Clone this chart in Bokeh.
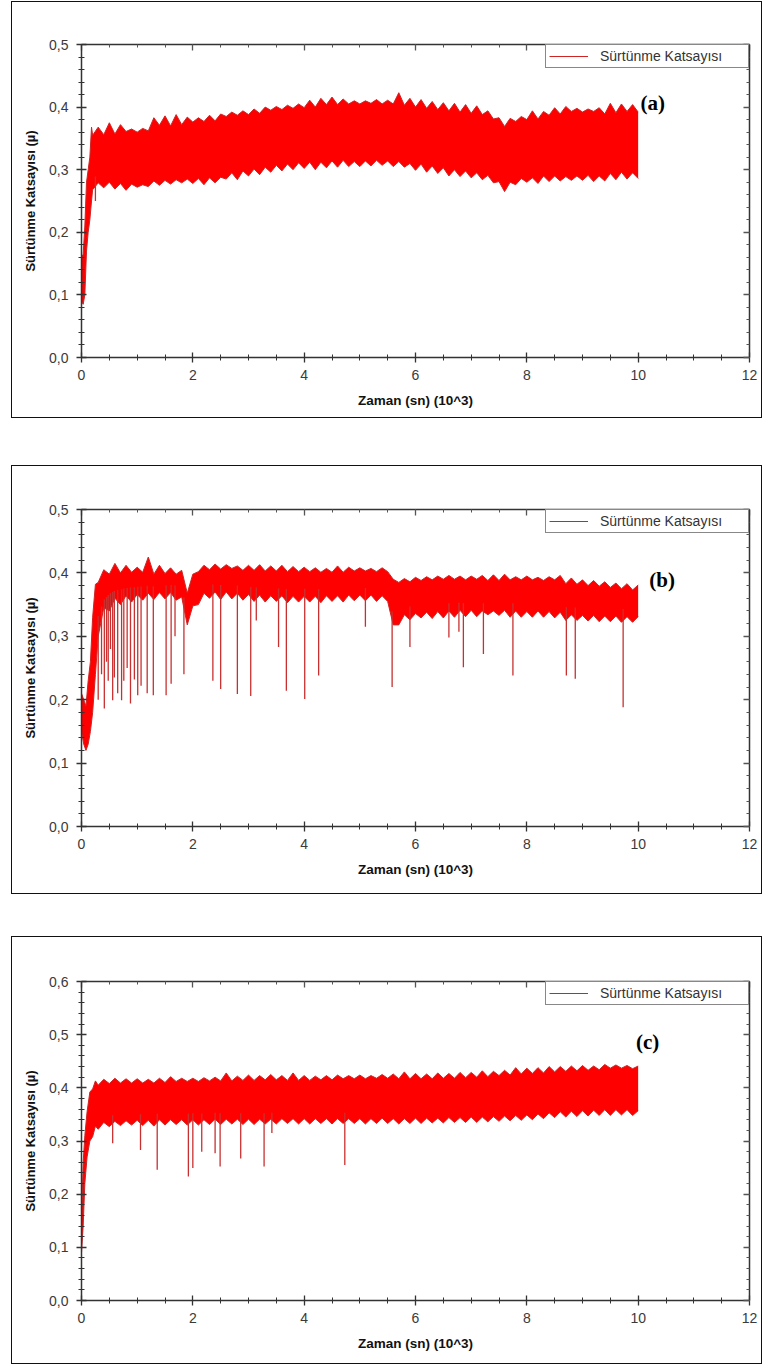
import numpy as np
from bokeh.plotting import figure
from bokeh.models import (Range1d, LinearAxis, FixedTicker, CustomJSTickFormatter,
                          Legend, LegendItem, Label, Spacer)
from bokeh.layouts import column, row
from bokeh.embed import file_html
from bokeh.resources import INLINE

# ---------------- data (time in 10^3 s, friction coefficient mu) ----------------
X_TICKS = [0, 2, 4, 6, 8, 10, 12]
Y_TICKS_AB = [0.0, 0.1, 0.2, 0.3, 0.4, 0.5]
Y_TICKS_C = [0.0, 0.1, 0.2, 0.3, 0.4, 0.5, 0.6]
SERIES_NAME = "Sürtünme Katsayısı"

T_GRID = [0.3, 0.4, 0.5, 0.6, 0.7, 0.8, 0.9,
          1.0, 1.1, 1.2, 1.3, 1.4, 1.5, 1.6, 1.7, 1.8, 1.9,
          2.0, 2.1, 2.2, 2.3, 2.4, 2.5, 2.6, 2.7, 2.8, 2.9,
          3.0, 3.1, 3.2, 3.3, 3.4, 3.5, 3.6, 3.7, 3.8, 3.9,
          4.0, 4.1, 4.2, 4.3, 4.4, 4.5, 4.6, 4.7, 4.8, 4.9,
          5.0, 5.1, 5.2, 5.3, 5.4, 5.5, 5.6, 5.7, 5.8, 5.9,
          6.0, 6.1, 6.2, 6.3, 6.4, 6.5, 6.6, 6.7, 6.8, 6.9,
          7.0, 7.1, 7.2, 7.3, 7.4, 7.5, 7.6, 7.7, 7.8, 7.9,
          8.0, 8.1, 8.2, 8.3, 8.4, 8.5, 8.6, 8.7, 8.8, 8.9,
          9.0, 9.1, 9.2, 9.3, 9.4, 9.5, 9.6, 9.7, 9.8, 9.9,
          10.0]

# ---- Panel (a) ----  (HI/LO: dense core of the band, PK/TR: tips of the noise)
A_T0 = [0.0, 0.03, 0.06, 0.09, 0.12, 0.15, 0.18, 0.2]
A_HI0 = [0.16, 0.165, 0.21, 0.28, 0.30, 0.32, 0.36, 0.355]
A_LO0 = [0.09, 0.085, 0.10, 0.17, 0.20, 0.22, 0.25, 0.275]
A_PK0 = [0.16, 0.165, 0.21, 0.28, 0.30, 0.32, 0.368, 0.362]
A_TR0 = [0.09, 0.085, 0.10, 0.17, 0.20, 0.22, 0.25, 0.268]
A_HI = [0.358, 0.356, 0.360, 0.357, 0.359, 0.361, 0.358,
        0.360, 0.358, 0.362, 0.368, 0.371, 0.373, 0.370, 0.374, 0.372, 0.375,
        0.376, 0.374, 0.377, 0.379, 0.378, 0.381, 0.385, 0.384, 0.387, 0.386,
        0.388, 0.391, 0.390, 0.393, 0.395, 0.394, 0.396, 0.395, 0.398, 0.397,
        0.399, 0.401, 0.400, 0.402, 0.404, 0.402, 0.404, 0.403, 0.405, 0.404,
        0.405, 0.403, 0.406, 0.404, 0.405, 0.403, 0.405, 0.406, 0.403, 0.402,
        0.400, 0.401, 0.398, 0.399, 0.396, 0.397, 0.394, 0.395, 0.392, 0.393,
        0.390, 0.391, 0.388, 0.386, 0.381, 0.374, 0.369, 0.372, 0.377, 0.378,
        0.380, 0.382, 0.381, 0.384, 0.387, 0.390, 0.389, 0.392, 0.393, 0.391,
        0.392, 0.390, 0.393, 0.391, 0.389, 0.392, 0.391, 0.394, 0.393, 0.394,
        0.392]
A_PK = [0.368, 0.364, 0.375, 0.366, 0.372, 0.383, 0.365,
        0.371, 0.366, 0.378, 0.383, 0.379, 0.386, 0.377, 0.388, 0.380, 0.384,
        0.385, 0.383, 0.390, 0.387, 0.393, 0.389, 0.396, 0.392, 0.398, 0.394,
        0.399, 0.397, 0.403, 0.400, 0.406, 0.401, 0.407, 0.403, 0.410, 0.405,
        0.408, 0.411, 0.406, 0.414, 0.410, 0.416, 0.411, 0.413, 0.417, 0.410,
        0.414, 0.410, 0.416, 0.412, 0.415, 0.411, 0.413, 0.423, 0.411, 0.414,
        0.408, 0.412, 0.405, 0.409, 0.404, 0.407, 0.402, 0.406, 0.399, 0.404,
        0.398, 0.402, 0.395, 0.394, 0.390, 0.383, 0.376, 0.382, 0.389, 0.385,
        0.389, 0.394, 0.388, 0.393, 0.398, 0.399, 0.405, 0.401, 0.410, 0.398,
        0.401, 0.397, 0.404, 0.399, 0.398, 0.406, 0.399, 0.405, 0.401, 0.404,
        0.399]
A_LO = [0.279, 0.277, 0.280, 0.276, 0.278, 0.280, 0.277,
        0.279, 0.276, 0.279, 0.282, 0.281, 0.283, 0.285, 0.284, 0.286, 0.285,
        0.287, 0.286, 0.288, 0.287, 0.289, 0.288, 0.292, 0.295, 0.296, 0.298,
        0.299, 0.301, 0.302, 0.304, 0.305, 0.307, 0.308, 0.309, 0.310, 0.311,
        0.311, 0.312, 0.310, 0.312, 0.313, 0.314, 0.313, 0.315, 0.314, 0.313,
        0.312, 0.314, 0.313, 0.315, 0.313, 0.314, 0.312, 0.313, 0.311, 0.310,
        0.308, 0.309, 0.306, 0.306, 0.304, 0.303, 0.301, 0.300, 0.298, 0.298,
        0.296, 0.295, 0.293, 0.291, 0.287, 0.281, 0.277, 0.280, 0.285, 0.286,
        0.288, 0.287, 0.289, 0.290, 0.291, 0.290, 0.292, 0.289, 0.291, 0.290,
        0.292, 0.291, 0.293, 0.290, 0.292, 0.294, 0.293, 0.296, 0.294, 0.295,
        0.294]
A_TR = [0.268, 0.271, 0.266, 0.269, 0.272, 0.267, 0.270,
        0.272, 0.266, 0.273, 0.271, 0.275, 0.274, 0.277, 0.272, 0.279, 0.276,
        0.278, 0.280, 0.276, 0.281, 0.279, 0.283, 0.285, 0.288, 0.284, 0.291,
        0.290, 0.295, 0.292, 0.297, 0.296, 0.300, 0.298, 0.302, 0.300, 0.304,
        0.302, 0.306, 0.300, 0.305, 0.303, 0.308, 0.304, 0.307, 0.305, 0.301,
        0.305, 0.302, 0.306, 0.304, 0.307, 0.303, 0.305, 0.301, 0.304, 0.300,
        0.299, 0.302, 0.296, 0.300, 0.294, 0.297, 0.290, 0.293, 0.289, 0.291,
        0.287, 0.289, 0.284, 0.285, 0.279, 0.271, 0.265, 0.272, 0.276, 0.279,
        0.280, 0.282, 0.278, 0.283, 0.281, 0.284, 0.282, 0.276, 0.283, 0.281,
        0.283, 0.286, 0.281, 0.284, 0.282, 0.287, 0.284, 0.288, 0.285, 0.287,
        0.286]
A_SPIKE_T = [0.25]
A_SPIKE_MU = [0.25]

# ---- Panel (b) ----
B_T0 = [0.0, 0.04, 0.08, 0.12, 0.16, 0.2, 0.25]
B_HI0 = [0.21, 0.20, 0.19, 0.23, 0.26, 0.33, 0.375]
B_LO0 = [0.15, 0.13, 0.12, 0.13, 0.15, 0.18, 0.24]
B_PK0 = [0.21, 0.20, 0.19, 0.23, 0.26, 0.33, 0.382]
B_TR0 = [0.15, 0.13, 0.12, 0.13, 0.15, 0.18, 0.24]
B_HI = [0.385, 0.394, 0.398, 0.397, 0.400, 0.398, 0.401,
        0.399, 0.401, 0.400, 0.398, 0.401, 0.399, 0.400, 0.398, 0.395, 0.368,
        0.390, 0.402, 0.403, 0.405, 0.404, 0.406, 0.405, 0.407, 0.405, 0.404,
        0.405, 0.404, 0.405, 0.403, 0.404, 0.403, 0.404, 0.402, 0.403, 0.402,
        0.403, 0.402, 0.403, 0.401, 0.402, 0.401, 0.403, 0.401, 0.402, 0.403,
        0.402, 0.403, 0.401, 0.402, 0.401, 0.402, 0.383, 0.385, 0.384, 0.386,
        0.386, 0.388, 0.387, 0.389, 0.388, 0.390, 0.389, 0.390, 0.388, 0.389,
        0.388, 0.390, 0.389, 0.388, 0.389, 0.388, 0.390, 0.389, 0.388, 0.389,
        0.388, 0.389, 0.387, 0.388, 0.387, 0.389, 0.388, 0.383, 0.384, 0.382,
        0.382, 0.380, 0.381, 0.379, 0.379, 0.377, 0.377, 0.375, 0.375, 0.373,
        0.374]
B_PK = [0.395, 0.405, 0.410, 0.415, 0.434, 0.412, 0.428,
        0.409, 0.413, 0.425, 0.407, 0.412, 0.410, 0.408, 0.411, 0.404, 0.378,
        0.398, 0.409, 0.412, 0.411, 0.414, 0.410, 0.413, 0.416, 0.411, 0.410,
        0.412, 0.409, 0.413, 0.408, 0.411, 0.409, 0.412, 0.407, 0.410, 0.408,
        0.409, 0.411, 0.408, 0.410, 0.407, 0.409, 0.411, 0.406, 0.409, 0.412,
        0.408, 0.410, 0.407, 0.409, 0.408, 0.407, 0.390, 0.393, 0.391, 0.395,
        0.393, 0.397, 0.394, 0.396, 0.395, 0.399, 0.396, 0.398, 0.395, 0.397,
        0.395, 0.398, 0.396, 0.401, 0.397, 0.395, 0.398, 0.396, 0.394, 0.397,
        0.395, 0.396, 0.393, 0.395, 0.394, 0.398, 0.396, 0.390, 0.392, 0.389,
        0.389, 0.386, 0.388, 0.385, 0.386, 0.383, 0.384, 0.381, 0.383, 0.380,
        0.381]
B_LO = [0.320, 0.345, 0.355, 0.360, 0.362, 0.364, 0.365,
        0.366, 0.367, 0.368, 0.367, 0.369, 0.368, 0.369, 0.368, 0.362, 0.330,
        0.348, 0.364, 0.368, 0.369, 0.370, 0.369, 0.370, 0.368, 0.368, 0.366,
        0.366, 0.365, 0.365, 0.364, 0.364, 0.363, 0.364, 0.362, 0.363, 0.362,
        0.363, 0.362, 0.363, 0.362, 0.364, 0.363, 0.364, 0.363, 0.365, 0.364,
        0.365, 0.364, 0.365, 0.364, 0.364, 0.363, 0.318, 0.330, 0.334, 0.335,
        0.336, 0.337, 0.338, 0.338, 0.339, 0.339, 0.340, 0.340, 0.341, 0.340,
        0.341, 0.341, 0.340, 0.341, 0.340, 0.341, 0.341, 0.340, 0.340, 0.339,
        0.339, 0.339, 0.340, 0.339, 0.339, 0.338, 0.338, 0.334, 0.334, 0.333,
        0.333, 0.332, 0.333, 0.332, 0.332, 0.331, 0.332, 0.331, 0.331, 0.330,
        0.331]
B_TR = [0.300, 0.330, 0.340, 0.348, 0.350, 0.352, 0.354,
        0.355, 0.357, 0.356, 0.358, 0.357, 0.359, 0.356, 0.357, 0.350, 0.318,
        0.335, 0.350, 0.356, 0.360, 0.361, 0.358, 0.362, 0.359, 0.360, 0.357,
        0.358, 0.355, 0.357, 0.354, 0.357, 0.355, 0.356, 0.353, 0.356, 0.354,
        0.355, 0.354, 0.356, 0.353, 0.357, 0.355, 0.356, 0.354, 0.358, 0.356,
        0.357, 0.356, 0.358, 0.355, 0.357, 0.355, 0.300, 0.318, 0.325, 0.326,
        0.327, 0.329, 0.330, 0.328, 0.331, 0.329, 0.332, 0.330, 0.333, 0.331,
        0.333, 0.331, 0.332, 0.334, 0.331, 0.333, 0.332, 0.330, 0.332, 0.330,
        0.331, 0.330, 0.332, 0.330, 0.331, 0.329, 0.330, 0.325, 0.327, 0.325,
        0.325, 0.324, 0.326, 0.323, 0.325, 0.323, 0.325, 0.322, 0.324, 0.322,
        0.323]
B_SPIKE_T = [0.30, 0.36, 0.41, 0.45, 0.48, 0.52, 0.56, 0.59, 0.65, 0.72, 0.76,
             0.82, 0.88, 0.95, 1.01, 1.07, 1.18, 1.29, 1.52, 1.61, 1.68, 1.84,
             2.36, 2.50, 2.80, 3.04, 3.14, 3.54, 3.68, 4.01, 4.26, 5.10, 5.58,
             5.90, 6.60, 6.78, 6.86, 7.22, 7.75, 8.71, 8.87, 9.73]
B_SPIKE_MU = [0.20, 0.24, 0.186, 0.26, 0.23, 0.28, 0.199, 0.235, 0.21, 0.199, 0.23,
              0.25, 0.194, 0.232, 0.207, 0.222, 0.21, 0.207, 0.207, 0.225, 0.30, 0.24,
              0.23, 0.217, 0.209, 0.206, 0.325, 0.283, 0.214, 0.201, 0.238, 0.315, 0.22,
              0.283, 0.298, 0.307, 0.251, 0.272, 0.238, 0.238, 0.233, 0.188]

# ---- Panel (c) ----
C_T0 = [0.0, 0.03, 0.06, 0.1, 0.15, 0.2, 0.25]
C_HI0 = [0.15, 0.26, 0.31, 0.355, 0.385, 0.398, 0.405]
C_LO0 = [0.09, 0.14, 0.22, 0.275, 0.30, 0.318, 0.328]
C_PK0 = [0.15, 0.26, 0.31, 0.36, 0.392, 0.407, 0.413]
C_TR0 = [0.09, 0.14, 0.22, 0.27, 0.292, 0.308, 0.318]
C_HI = [0.405, 0.406, 0.408, 0.407, 0.409, 0.408, 0.409,
        0.410, 0.409, 0.410, 0.409, 0.411, 0.410, 0.411, 0.412, 0.411, 0.412,
        0.411, 0.412, 0.411, 0.413, 0.412, 0.413, 0.412, 0.413, 0.412, 0.414,
        0.413, 0.414, 0.413, 0.415, 0.414, 0.415, 0.413, 0.414, 0.415, 0.414,
        0.415, 0.414, 0.416, 0.415, 0.416, 0.415, 0.416, 0.417, 0.416, 0.417,
        0.416, 0.417, 0.416, 0.418, 0.417, 0.418, 0.416, 0.417, 0.418, 0.417,
        0.418, 0.417, 0.418, 0.417, 0.419, 0.418, 0.419, 0.418, 0.419, 0.419,
        0.420, 0.420, 0.422, 0.421, 0.423, 0.423, 0.425, 0.424, 0.426, 0.426,
        0.427, 0.427, 0.429, 0.428, 0.430, 0.430, 0.432, 0.431, 0.433, 0.432,
        0.434, 0.433, 0.435, 0.434, 0.436, 0.437, 0.435, 0.437, 0.435, 0.436,
        0.434]
C_PK = [0.412, 0.416, 0.414, 0.418, 0.415, 0.417, 0.416,
        0.417, 0.420, 0.416, 0.419, 0.418, 0.417, 0.421, 0.419, 0.418, 0.420,
        0.418, 0.422, 0.419, 0.421, 0.420, 0.423, 0.428, 0.421, 0.422, 0.421,
        0.424, 0.421, 0.423, 0.422, 0.425, 0.422, 0.423, 0.421, 0.428, 0.422,
        0.423, 0.425, 0.422, 0.424, 0.423, 0.426, 0.424, 0.430, 0.423, 0.425,
        0.424, 0.426, 0.423, 0.427, 0.425, 0.424, 0.426, 0.423, 0.430, 0.425,
        0.427, 0.424, 0.426, 0.425, 0.428, 0.425, 0.427, 0.426, 0.429, 0.426,
        0.429, 0.427, 0.432, 0.429, 0.431, 0.434, 0.433, 0.432, 0.438, 0.434,
        0.437, 0.435, 0.438, 0.437, 0.440, 0.442, 0.440, 0.444, 0.441, 0.445,
        0.442, 0.443, 0.441, 0.446, 0.444, 0.455, 0.443, 0.448, 0.442, 0.446,
        0.441]
C_LO = [0.333, 0.335, 0.336, 0.337, 0.337, 0.338, 0.338,
        0.339, 0.338, 0.339, 0.338, 0.340, 0.339, 0.340, 0.339, 0.340, 0.339,
        0.340, 0.339, 0.340, 0.339, 0.341, 0.340, 0.341, 0.340, 0.341, 0.340,
        0.341, 0.340, 0.341, 0.340, 0.341, 0.341, 0.342, 0.341, 0.342, 0.341,
        0.342, 0.341, 0.342, 0.341, 0.342, 0.341, 0.342, 0.341, 0.342, 0.342,
        0.342, 0.341, 0.342, 0.342, 0.343, 0.342, 0.342, 0.341, 0.342, 0.342,
        0.343, 0.342, 0.343, 0.342, 0.343, 0.343, 0.344, 0.343, 0.344, 0.344,
        0.345, 0.344, 0.345, 0.345, 0.346, 0.346, 0.347, 0.347, 0.348, 0.348,
        0.349, 0.349, 0.351, 0.351, 0.353, 0.353, 0.355, 0.355, 0.356, 0.356,
        0.357, 0.357, 0.358, 0.358, 0.359, 0.358, 0.359, 0.358, 0.359, 0.358,
        0.357]
C_TR = [0.322, 0.328, 0.327, 0.330, 0.329, 0.331, 0.330,
        0.331, 0.329, 0.332, 0.328, 0.333, 0.330, 0.332, 0.331, 0.333, 0.330,
        0.332, 0.330, 0.333, 0.331, 0.333, 0.331, 0.334, 0.332, 0.333, 0.331,
        0.333, 0.331, 0.334, 0.332, 0.333, 0.332, 0.335, 0.333, 0.334, 0.332,
        0.334, 0.332, 0.335, 0.333, 0.334, 0.332, 0.335, 0.333, 0.334, 0.333,
        0.334, 0.332, 0.335, 0.333, 0.335, 0.333, 0.334, 0.332, 0.335, 0.333,
        0.335, 0.333, 0.336, 0.334, 0.335, 0.334, 0.336, 0.335, 0.336, 0.335,
        0.337, 0.335, 0.337, 0.336, 0.338, 0.337, 0.339, 0.338, 0.340, 0.339,
        0.341, 0.340, 0.343, 0.342, 0.345, 0.344, 0.347, 0.345, 0.348, 0.346,
        0.349, 0.347, 0.350, 0.348, 0.351, 0.348, 0.351, 0.349, 0.350, 0.348,
        0.349]
C_SPIKE_T = [0.56, 1.06, 1.36, 1.92, 2.00, 2.16, 2.40, 2.49, 2.86, 3.28, 3.42, 4.73]
C_SPIKE_MU = [0.296, 0.283, 0.246, 0.233, 0.249, 0.280, 0.277, 0.252, 0.267, 0.252,
              0.315, 0.255]

# ---------------- styling ----------------
FONT = "Liberation Sans"
FILL = "#ff0000"
EDGE = "#cf2424"
WHISKER = "#c83030"
AXIS = "#333333"


def style_axis(ax, t_in, t_out, mt_in, mt_out, color=AXIS):
    ax.axis_line_color = AXIS
    ax.axis_line_width = 1.5
    ax.major_tick_line_color = color
    ax.minor_tick_line_color = color
    ax.major_tick_line_width = 1.3
    ax.minor_tick_line_width = 1
    ax.major_tick_in = t_in
    ax.major_tick_out = t_out
    ax.minor_tick_in = mt_in
    ax.minor_tick_out = mt_out


def make_panel(t0, hi0, lo0, pk0, tr0, hi, lo, pk, tr, sp_t, sp_mu, yticks,
               tag, tag_x, tag_y, frame_h, top, bottom):
    t = np.array(t0 + T_GRID)
    h = np.array(hi0 + hi)
    l = np.array(lo0 + lo)
    k = np.array(pk0 + pk)
    r = np.array(tr0 + tr)
    # ragged outline: alternate between the noise tips and the dense core
    n = len(t)
    odd = (np.arange(n) % 2) == 1
    upper = np.where(odd, h, k)
    lower = np.where(odd, r, l)

    ymax = yticks[-1]
    p = figure(frame_width=666, frame_height=frame_h,
               min_border_left=69, min_border_right=14,
               min_border_top=top, min_border_bottom=bottom,
               x_range=Range1d(0, 12), y_range=Range1d(0, ymax),
               output_backend="svg", toolbar_location=None,
               styles={"border": "1px solid #111111"})
    p.outline_line_color = None
    p.xgrid.visible = False
    p.ygrid.visible = False
    p.background_fill_color = "white"
    p.border_fill_color = "white"

    xminor = [i * 0.5 for i in range(25)]
    yminor = [round(i * 0.02, 2) for i in range(int(round(ymax / 0.02)) + 1)]
    yfmt = CustomJSTickFormatter(code="return tick.toFixed(1).replace('.', ',');")
    blank = CustomJSTickFormatter(code="return '';")

    # bottom axis
    xa = p.xaxis[0]
    xa.ticker = FixedTicker(ticks=X_TICKS, minor_ticks=xminor)
    style_axis(xa, 5, 5, 3, 3)
    xa.major_label_text_font = FONT
    xa.major_label_text_font_size = "14px"
    xa.major_label_text_color = "#3a3a3a"
    xa.major_label_standoff = 7
    xa.axis_label = "Zaman (sn) (10^3)"
    xa.axis_label_text_font = FONT
    xa.axis_label_text_font_style = "bold"
    xa.axis_label_text_font_size = "13.5px"
    xa.axis_label_text_color = "#111111"
    xa.axis_label_standoff = 10

    # left axis
    ya = p.yaxis[0]
    ya.ticker = FixedTicker(ticks=yticks, minor_ticks=yminor)
    ya.formatter = yfmt
    style_axis(ya, 5, 5, 3, 3)
    ya.major_label_text_font = FONT
    ya.major_label_text_font_size = "14px"
    ya.major_label_text_color = "#3a3a3a"
    ya.major_label_standoff = 8
    ya.axis_label = "Sürtünme Katsayısı (µ)"
    ya.axis_label_text_font = FONT
    ya.axis_label_text_font_style = "bold"
    ya.axis_label_text_font_size = "13px"
    ya.axis_label_text_color = "#111111"
    ya.axis_label_standoff = 8

    # top and right axes: inward ticks, blank labels
    ta = LinearAxis(ticker=FixedTicker(ticks=X_TICKS, minor_ticks=xminor),
                    formatter=blank, major_label_standoff=0)
    style_axis(ta, 6, 0, 3, 0, color="#555555")
    p.add_layout(ta, "above")
    ra = LinearAxis(ticker=FixedTicker(ticks=yticks, minor_ticks=yminor),
                    formatter=blank, major_label_standoff=0)
    style_axis(ra, 6, 0, 3, 0, color="#555555")
    p.add_layout(ra, "right")

    # signal band with ragged outline + isolated deep drops
    p.varea(x=t, y1=lower, y2=upper, fill_color=FILL, fill_alpha=1.0)
    edge_hi = p.line(t, upper, line_color=EDGE, line_width=1)
    p.line(t, lower, line_color=EDGE, line_width=1)
    if sp_t:
        tops = np.interp(sp_t, t, l) + 0.012
        p.multi_line(xs=[[x, x] for x in sp_t],
                     ys=[[m, s] for m, s in zip(sp_mu, tops)],
                     line_color=WHISKER, line_width=1.3)

    leg = Legend(items=[LegendItem(label=SERIES_NAME, renderers=[edge_hi])],
                 location="top_right", margin=0, padding=3, spacing=0,
                 glyph_width=39, glyph_height=14, label_standoff=12,
                 label_width=145, label_height=14,
                 label_text_font=FONT, label_text_font_size="14px",
                 label_text_color="#333333", border_line_color="#111111",
                 border_line_width=1, background_fill_color="white",
                 background_fill_alpha=1.0)
    p.add_layout(leg)

    p.add_layout(Label(x=tag_x, y=tag_y, text=tag, text_font="Liberation Serif",
                       text_font_style="bold", text_font_size="21px",
                       text_baseline="middle", text_color="black"))
    return p


pa = make_panel(A_T0, A_HI0, A_LO0, A_PK0, A_TR0, A_HI, A_LO, A_PK, A_TR,
                A_SPIKE_T, A_SPIKE_MU, Y_TICKS_AB, "(a)", 10.04, 0.407, 311, 42, 62)
pb = make_panel(B_T0, B_HI0, B_LO0, B_PK0, B_TR0, B_HI, B_LO, B_PK, B_TR,
                B_SPIKE_T, B_SPIKE_MU, Y_TICKS_AB, "(b)", 10.2, 0.389, 315, 43, 69)
pc = make_panel(C_T0, C_HI0, C_LO0, C_PK0, C_TR0, C_HI, C_LO, C_PK, C_TR,
                C_SPIKE_T, C_SPIKE_MU, Y_TICKS_C, "(c)", 9.96, 0.487, 317, 44, 65)

layout = column(Spacer(height=1),
                row(Spacer(width=11), pa),
                Spacer(height=47),
                row(Spacer(width=11), pb),
                Spacer(height=42),
                row(Spacer(width=11), pc))

open("out.html", "w").write(file_html(layout, INLINE))
